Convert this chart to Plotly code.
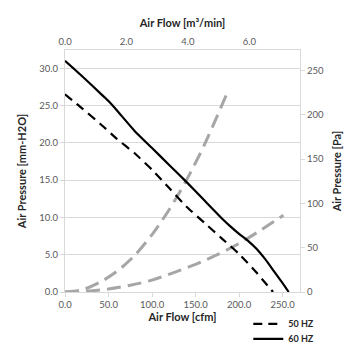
import plotly.graph_objects as go

# 60 Hz fan curve (cfm, mm-H2O)
hz60_cfm = [0, 20, 40, 50, 60, 80, 100, 120, 140, 160, 180, 190, 200, 210, 220, 230, 240, 250, 257]
hz60_mm = [31.0, 28.9, 26.7, 25.6, 24.3, 21.6, 19.3, 17.0, 14.7, 12.3, 9.9, 8.8, 7.8, 6.9, 5.8, 4.4, 2.8, 1.2, 0.0]

# 50 Hz fan curve
hz50_cfm = [0, 20, 40, 60, 80, 100, 120, 140, 160, 180, 200, 220, 239]
hz50_mm = [26.5, 24.6, 22.6, 20.5, 18.6, 16.4, 13.9, 11.4, 9.3, 7.2, 5.1, 2.6, 0.0]

# system impedance curves (gray)
sys_hi_cfm = [0, 20, 40, 60, 80, 100, 120, 140, 160, 186]
sys_hi_mm = [0.0, 0.3, 1.3, 2.8, 4.9, 7.7, 11.1, 15.1, 19.7, 26.6]
sys_lo_cfm = [0, 25, 50, 75, 100, 125, 150, 175, 200, 225, 251]
sys_lo_mm = [0.0, 0.1, 0.4, 0.9, 1.6, 2.6, 3.7, 5.0, 6.5, 8.3, 10.3]

left_ticks = [0, 5, 10, 15, 20, 25, 30]
right_ticks = [0, 50, 100, 150, 200, 250]
bottom_ticks = [0, 50, 100, 150, 200, 250]
top_ticks = [0, 2, 4, 6]

FONT = "Lato"
TICKC = "#595959"
TITLEC = "#262626"
GRID = "#d9d9d9"

fig = go.Figure()
fig.add_trace(go.Scatter(x=sys_hi_cfm, y=sys_hi_mm, mode="lines", showlegend=False,
                         line=dict(color="#a6a6a6", width=3, dash="14px,7px",
                                   shape="spline", smoothing=0.8)))
fig.add_trace(go.Scatter(x=sys_lo_cfm, y=sys_lo_mm, mode="lines", showlegend=False,
                         line=dict(color="#a6a6a6", width=3, dash="14px,7px",
                                   shape="spline", smoothing=0.8)))
fig.add_trace(go.Scatter(x=hz50_cfm, y=hz50_mm, mode="lines", name="50 HZ", legend="legend",
                         line=dict(color="black", width=2.2, dash="9px,6px",
                                   shape="spline", smoothing=0.5)))
fig.add_trace(go.Scatter(x=hz60_cfm, y=hz60_mm, mode="lines", name="60 HZ", legend="legend2",
                         line=dict(color="black", width=2.2,
                                   shape="spline", smoothing=0.5)))
# anchor for secondary axes
fig.add_trace(go.Scatter(x=[0], y=[0], xaxis="x2", yaxis="y2", mode="markers",
                         marker=dict(opacity=0), showlegend=False, hoverinfo="skip"))

tickfont = dict(family=FONT, size=9.5, color=TICKC)
titlefont = dict(family=FONT, size=11, color=TITLEC, weight="bold")
legfont = dict(family=FONT, size=9, color=TITLEC, weight="bold")

fig.update_layout(
    width=355, height=355,
    margin=dict(l=64.5, r=54.5, t=50, b=63.3, autoexpand=False),
    paper_bgcolor="white", plot_bgcolor="white",
    font=dict(family=FONT),
    xaxis=dict(range=[0, 270], tickvals=bottom_ticks, tickformat=".1f", automargin=False,
               title=dict(text="Air Flow [cfm]", font=titlefont, standoff=2),
               tickfont=tickfont, showgrid=False, zeroline=False,
               showline=True, linecolor=GRID, linewidth=1, mirror=False,
               ticks="outside", ticklen=4, tickcolor=GRID),
    xaxis2=dict(range=[0, 7.6455], tickvals=top_ticks, tickformat=".1f", automargin=False,
                overlaying="x", side="top",
                title=dict(text="Air Flow [m³/min]", font=titlefont, standoff=6),
                tickfont=tickfont, showgrid=False, zeroline=False,
                showline=True, linecolor=GRID, linewidth=1, ticks=""),
    yaxis=dict(range=[0, 32.45], tickvals=left_ticks, tickformat=".1f", automargin=False,
               title=dict(text="Air Pressure [mm-H2O]", font=titlefont, standoff=10),
               tickfont=tickfont, showgrid=True, gridcolor=GRID, gridwidth=1,
               zeroline=False, showline=True, linecolor=GRID, linewidth=1,
               ticks="outside", ticklen=4, tickcolor=GRID),
    yaxis2=dict(range=[0, 273], tickvals=right_ticks, overlaying="y", side="right",
                automargin=False,
                title=dict(text="Air Pressure [Pa]", font=titlefont, standoff=10),
                tickfont=tickfont, showgrid=False, zeroline=False,
                showline=True, linecolor=GRID, linewidth=1,
                ticks="outside", ticklen=4, tickcolor=GRID),
    legend=dict(x=0.78, xanchor="left", y=-0.0716, yanchor="top",
                font=legfont, bgcolor="rgba(0,0,0,0)", itemwidth=30),
    legend2=dict(x=0.78, xanchor="left", y=-0.134, yanchor="top",
                 font=legfont, bgcolor="rgba(0,0,0,0)", itemwidth=30),
    showlegend=True,
)

fig.write_html("out.html", config={"displayModeBar": False},
               post_script="document.body.style.margin='0';document.body.style.padding='0';")
